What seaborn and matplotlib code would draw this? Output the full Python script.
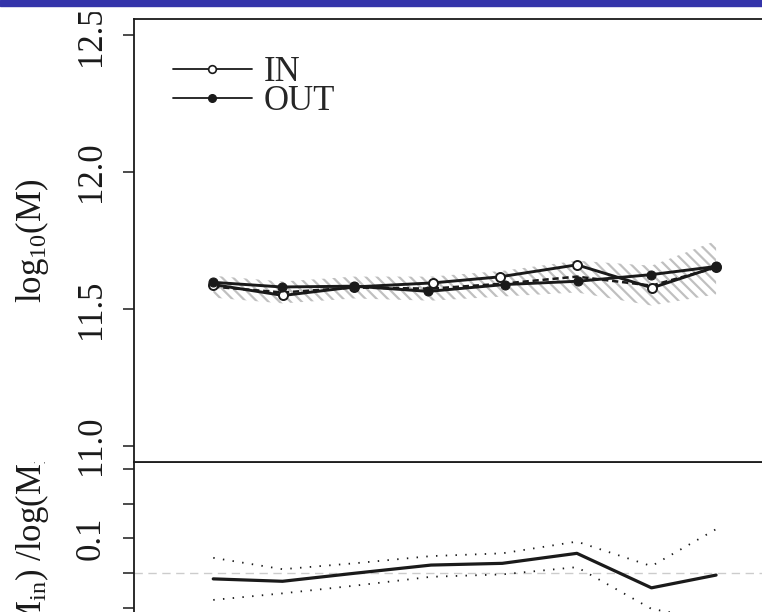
import matplotlib
matplotlib.use("Agg")
import matplotlib.pyplot as plt
from matplotlib.lines import Line2D
from matplotlib.patches import Rectangle
import seaborn as sns

# top panel: log10 mass of the two samples
x_in = [1.19, 2.24, 3.30, 4.49, 5.49, 6.65, 7.78, 8.74]
logm_in = [11.589, 11.549, 11.580, 11.595, 11.617, 11.661, 11.577, 11.654]
x_out = [1.19, 2.22, 3.30, 4.42, 5.57, 6.66, 7.76, 8.74]
logm_out = [11.597, 11.580, 11.583, 11.564, 11.589, 11.601, 11.625, 11.655]

# reference curve (dashed) and its spread (hatched band)
x_ref = [1.19, 2.23, 3.30, 4.46, 5.53, 6.65, 7.77, 8.74]
logm_ref = [11.581, 11.560, 11.578, 11.574, 11.592, 11.618, 11.585, 11.651]
ref_err = [0.040, 0.040, 0.040, 0.044, 0.047, 0.058, 0.073, 0.098]

# bottom panel: relative difference and its envelope
diff = [-0.017, -0.024, -0.001, 0.023, 0.028, 0.057, -0.043, -0.006]
diff_hi = [0.044, 0.011, 0.028, 0.049, 0.057, 0.091, 0.020, 0.127]
diff_lo = [-0.078, -0.059, -0.037, -0.011, -0.004, 0.017, -0.104, -0.138]

top_ticks = [11.0, 11.5, 12.0, 12.5]
diff_ticks = [-0.4, -0.3, -0.2, -0.1, 0.0, 0.1, 0.2, 0.3]
diff_labels = ["", "", "-0.2", "", "", "0.1", "", ""]

sns.set_theme(style="white")
plt.rcParams["font.family"] = ["Liberation Serif", "DejaVu Serif"]
plt.rcParams["mathtext.fontset"] = "custom"
plt.rcParams["mathtext.rm"] = "Liberation Serif"
plt.rcParams["mathtext.it"] = "Liberation Serif:italic"
plt.rcParams["hatch.color"] = "#c0c0c0"
plt.rcParams["hatch.linewidth"] = 1.6

FS = 25
W, H = 762, 612
fig = plt.figure(figsize=(W / 100, H / 100), dpi=100)


def box(l, t, r, b):
    # pixel box -> figure fraction
    return [l / W, 1 - b / H, (r - l) / W, (b - t) / H]


# bottom panel (partly outside the visible page)
ax2 = fig.add_axes(box(134, 462, 800, 720), zorder=0)
ax2.axhline(0, color="#cccccc", lw=1.0, ls=(0, (6, 4)))
sns.lineplot(x=x_ref, y=diff_hi, ax=ax2, color="k", lw=1.3, ls=(0, (0.8, 4.6)), sort=False)
sns.lineplot(x=x_ref, y=diff_lo, ax=ax2, color="k", lw=1.3, ls=(0, (0.8, 4.6)), sort=False)
sns.lineplot(x=x_ref, y=diff, ax=ax2, color="k", lw=2.3, sort=False)
ax2.set_xlim(0, 10)
ax2.set_ylim(-0.426, 0.3217)
ax2.set_xticks([])
ax2.set_yticks(diff_ticks)
ax2.set_yticklabels(diff_labels)
ax2.set_ylabel(r"$\mathrm{log(M_{out}/M_{in})\ /log(M_{in})}$", fontsize=FS)

# white page of the top plot hides what lies under it
fig.add_artist(Rectangle((0, 1 - 461 / H), 1, 461 / H, transform=fig.transFigure,
                         color="white", zorder=1))

ax1 = fig.add_axes(box(134, 19, 800, 462), zorder=2)
lo = [m - e for m, e in zip(logm_ref, ref_err)]
hi = [m + e for m, e in zip(logm_ref, ref_err)]
ax1.fill_between(x_ref, lo, hi, facecolor="none", edgecolor="#c0c0c0",
                 hatch="\\\\\\", lw=0)
sns.lineplot(x=x_ref, y=logm_ref, ax=ax1, color="k", lw=1.8, ls=(0, (2.5, 1.5)), sort=False)
sns.lineplot(x=x_in, y=logm_in, ax=ax1, color="k", lw=2.1, marker="o", ms=6.5,
             markerfacecolor="white", markeredgecolor="k", markeredgewidth=1.4, sort=False)
sns.lineplot(x=x_out, y=logm_out, ax=ax1, color="k", lw=2.1, marker="o", ms=6.5,
             markerfacecolor="k", markeredgecolor="k", sort=False)
ax1.set_xlim(0, 10)
ax1.set_ylim(10.94, 12.56)
ax1.set_xticks([])
ax1.set_yticks(top_ticks)
ax1.set_ylabel(r"$\mathrm{log_{10}(M)}$", fontsize=FS)

handles = [
    Line2D([], [], color="k", lw=1.3, marker="o", ms=5.5, mfc="white", mec="k", mew=1.2),
    Line2D([], [], color="k", lw=1.3, marker="o", ms=5.5, mfc="k", mec="k"),
]
ax1.legend(handles, ["IN", "OUT"], loc="upper left", bbox_to_anchor=(0.058, 0.9165),
           frameon=False, fontsize=FS, handlelength=2.28, handletextpad=0.33,
           labelspacing=-0.12, borderpad=0, borderaxespad=0)

for ax, ly in ((ax1, 0.5), (ax2, 0.48)):
    for s in ax.spines.values():
        s.set_color("k")
        s.set_linewidth(1.3)
    ax.tick_params(axis="y", left=True, length=8, width=1.1, direction="out",
                   pad=11, labelsize=FS, labelrotation=90, colors="k")
    for t in ax.get_yticklabels():
        t.set_va("center")
    ax.yaxis.set_label_coords(-0.125, ly)
    ax.yaxis.label.set_color("k")

# slide header bar and the page margin under it
fig.add_artist(Rectangle((0, 1 - 11 / H), 1, 5 / H, transform=fig.transFigure,
                         color="white", zorder=3))
fig.add_artist(Rectangle((0, 1 - 6 / H), 1, 6 / H, transform=fig.transFigure,
                         color="#3434aa", zorder=3))

fig.savefig("out.png", dpi=100)
